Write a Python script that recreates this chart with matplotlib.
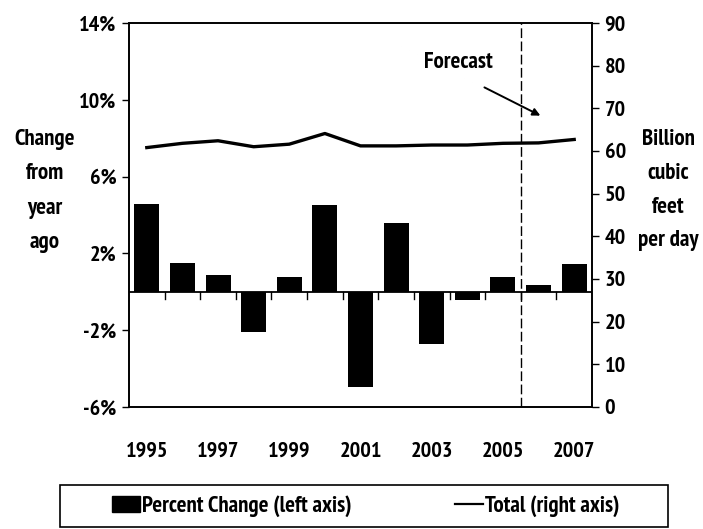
import matplotlib.pyplot as plt
from matplotlib.patches import Patch, Rectangle
from matplotlib.lines import Line2D
from matplotlib.transforms import blended_transform_factory

plt.rcParams['font.family'] = ['PT Sans Narrow', 'DejaVu Sans']
plt.rcParams['font.stretch'] = 'condensed'
plt.rcParams['font.weight'] = 'bold'

# data
years = list(range(1995, 2008))
pct_change = [4.55, 1.5, 0.9, -2.1, 0.75, 4.5, -4.95, 3.6, -2.7, -0.45, 0.75, 0.35, 1.45]
total = [60.8, 61.8, 62.4, 61.0, 61.6, 64.1, 61.2, 61.2, 61.4, 61.4, 61.8, 61.9, 62.7]
year_labels = ["1995", "1997", "1999", "2001", "2003", "2005", "2007"]
left_ticks = [14, 10, 6, 2, -2, -6]
right_ticks = list(range(0, 100, 10))

W, H = 703, 529
fs = 16.5
x = list(range(len(years)))


def fx(px):
    return px / W


def fy(py):
    return 1 - py / H


fig = plt.figure(figsize=(W / 100, H / 100), dpi=100)
ax = fig.add_axes([fx(129), fy(407), fx(592) - fx(129), fy(23) - fy(407)])

ax.bar(x, pct_change, width=0.7, color="black", zorder=2)
ax.axhline(0, color="black", lw=1.3, zorder=3)
ax.set_xlim(-0.5, 12.5)
ax.set_ylim(-6, 14)
ax.set_yticks(left_ticks)
ax.set_yticklabels([f"{t}%" for t in left_ticks], fontsize=16)
ax.tick_params(axis="y", direction="out", length=5, width=1, pad=4)

# x ticks between categories on the zero line, labels below the plot
ax.set_xticks([])
for i in range(len(years) - 1):
    ax.plot([i + 0.5, i + 0.5], [0, -0.36], color="black", lw=1, zorder=3)
tr = blended_transform_factory(ax.transData, fig.transFigure)
for i, lab in enumerate(year_labels):
    ax.text(2 * i, fy(457), lab, ha="center", va="baseline", fontsize=16, transform=tr)

# forecast divider
ax.axvline(10.5, color="black", lw=1, ls=(0, (7, 2.5)), zorder=3)

ax2 = ax.twinx()
ax2.plot(x, total, color="black", lw=2.4, zorder=4)
ax2.set_ylim(0, 90)
ax2.set_yticks(right_ticks)
ax2.set_yticklabels([str(t) for t in right_ticks], fontsize=16)
ax2.tick_params(axis="y", direction="out", length=5, width=1, pad=4)

for a in (ax, ax2):
    for s in a.spines.values():
        s.set_linewidth(1.2)

ax2.annotate("", xy=(11.12, 68.0), xytext=(9.41, 75.2),
             arrowprops=dict(arrowstyle="-|>", color="black", lw=1.4,
                             mutation_scale=11))
fig.text(fx(458), fy(68), "Forecast", ha="center", va="baseline", fontsize=fs)

# axis titles, one line at a time
for word, py in zip(["Change", "from", "year", "ago"], [145, 179, 214, 248]):
    fig.text(fx(45), fy(py), word, ha="center", va="baseline", fontsize=fs)
for word, py in zip(["Billion", "cubic", "feet", "per day"], [145, 179, 213, 246]):
    fig.text(fx(668), fy(py), word, ha="center", va="baseline", fontsize=fs)

# legend: frame plus two entries
fig.patches.append(Rectangle((fx(60), fy(527)), fx(668) - fx(60), fy(485) - fy(527),
                             transform=fig.transFigure, fill=False,
                             edgecolor="black", lw=1.2))
common = dict(loc="center left", frameon=False, fontsize=fs, borderpad=0,
              borderaxespad=0, handletextpad=0.1, handlelength=1.2)
fig.legend([Patch(facecolor="black", edgecolor="black")],
           ["Percent Change (left axis)"], bbox_to_anchor=(fx(112), fy(506)), **common)
fig.legend([Line2D([0], [0], color="black", lw=1.6)],
           ["Total (right axis)"], bbox_to_anchor=(fx(455), fy(506)), **common)

fig.savefig("out.png", dpi=100)
